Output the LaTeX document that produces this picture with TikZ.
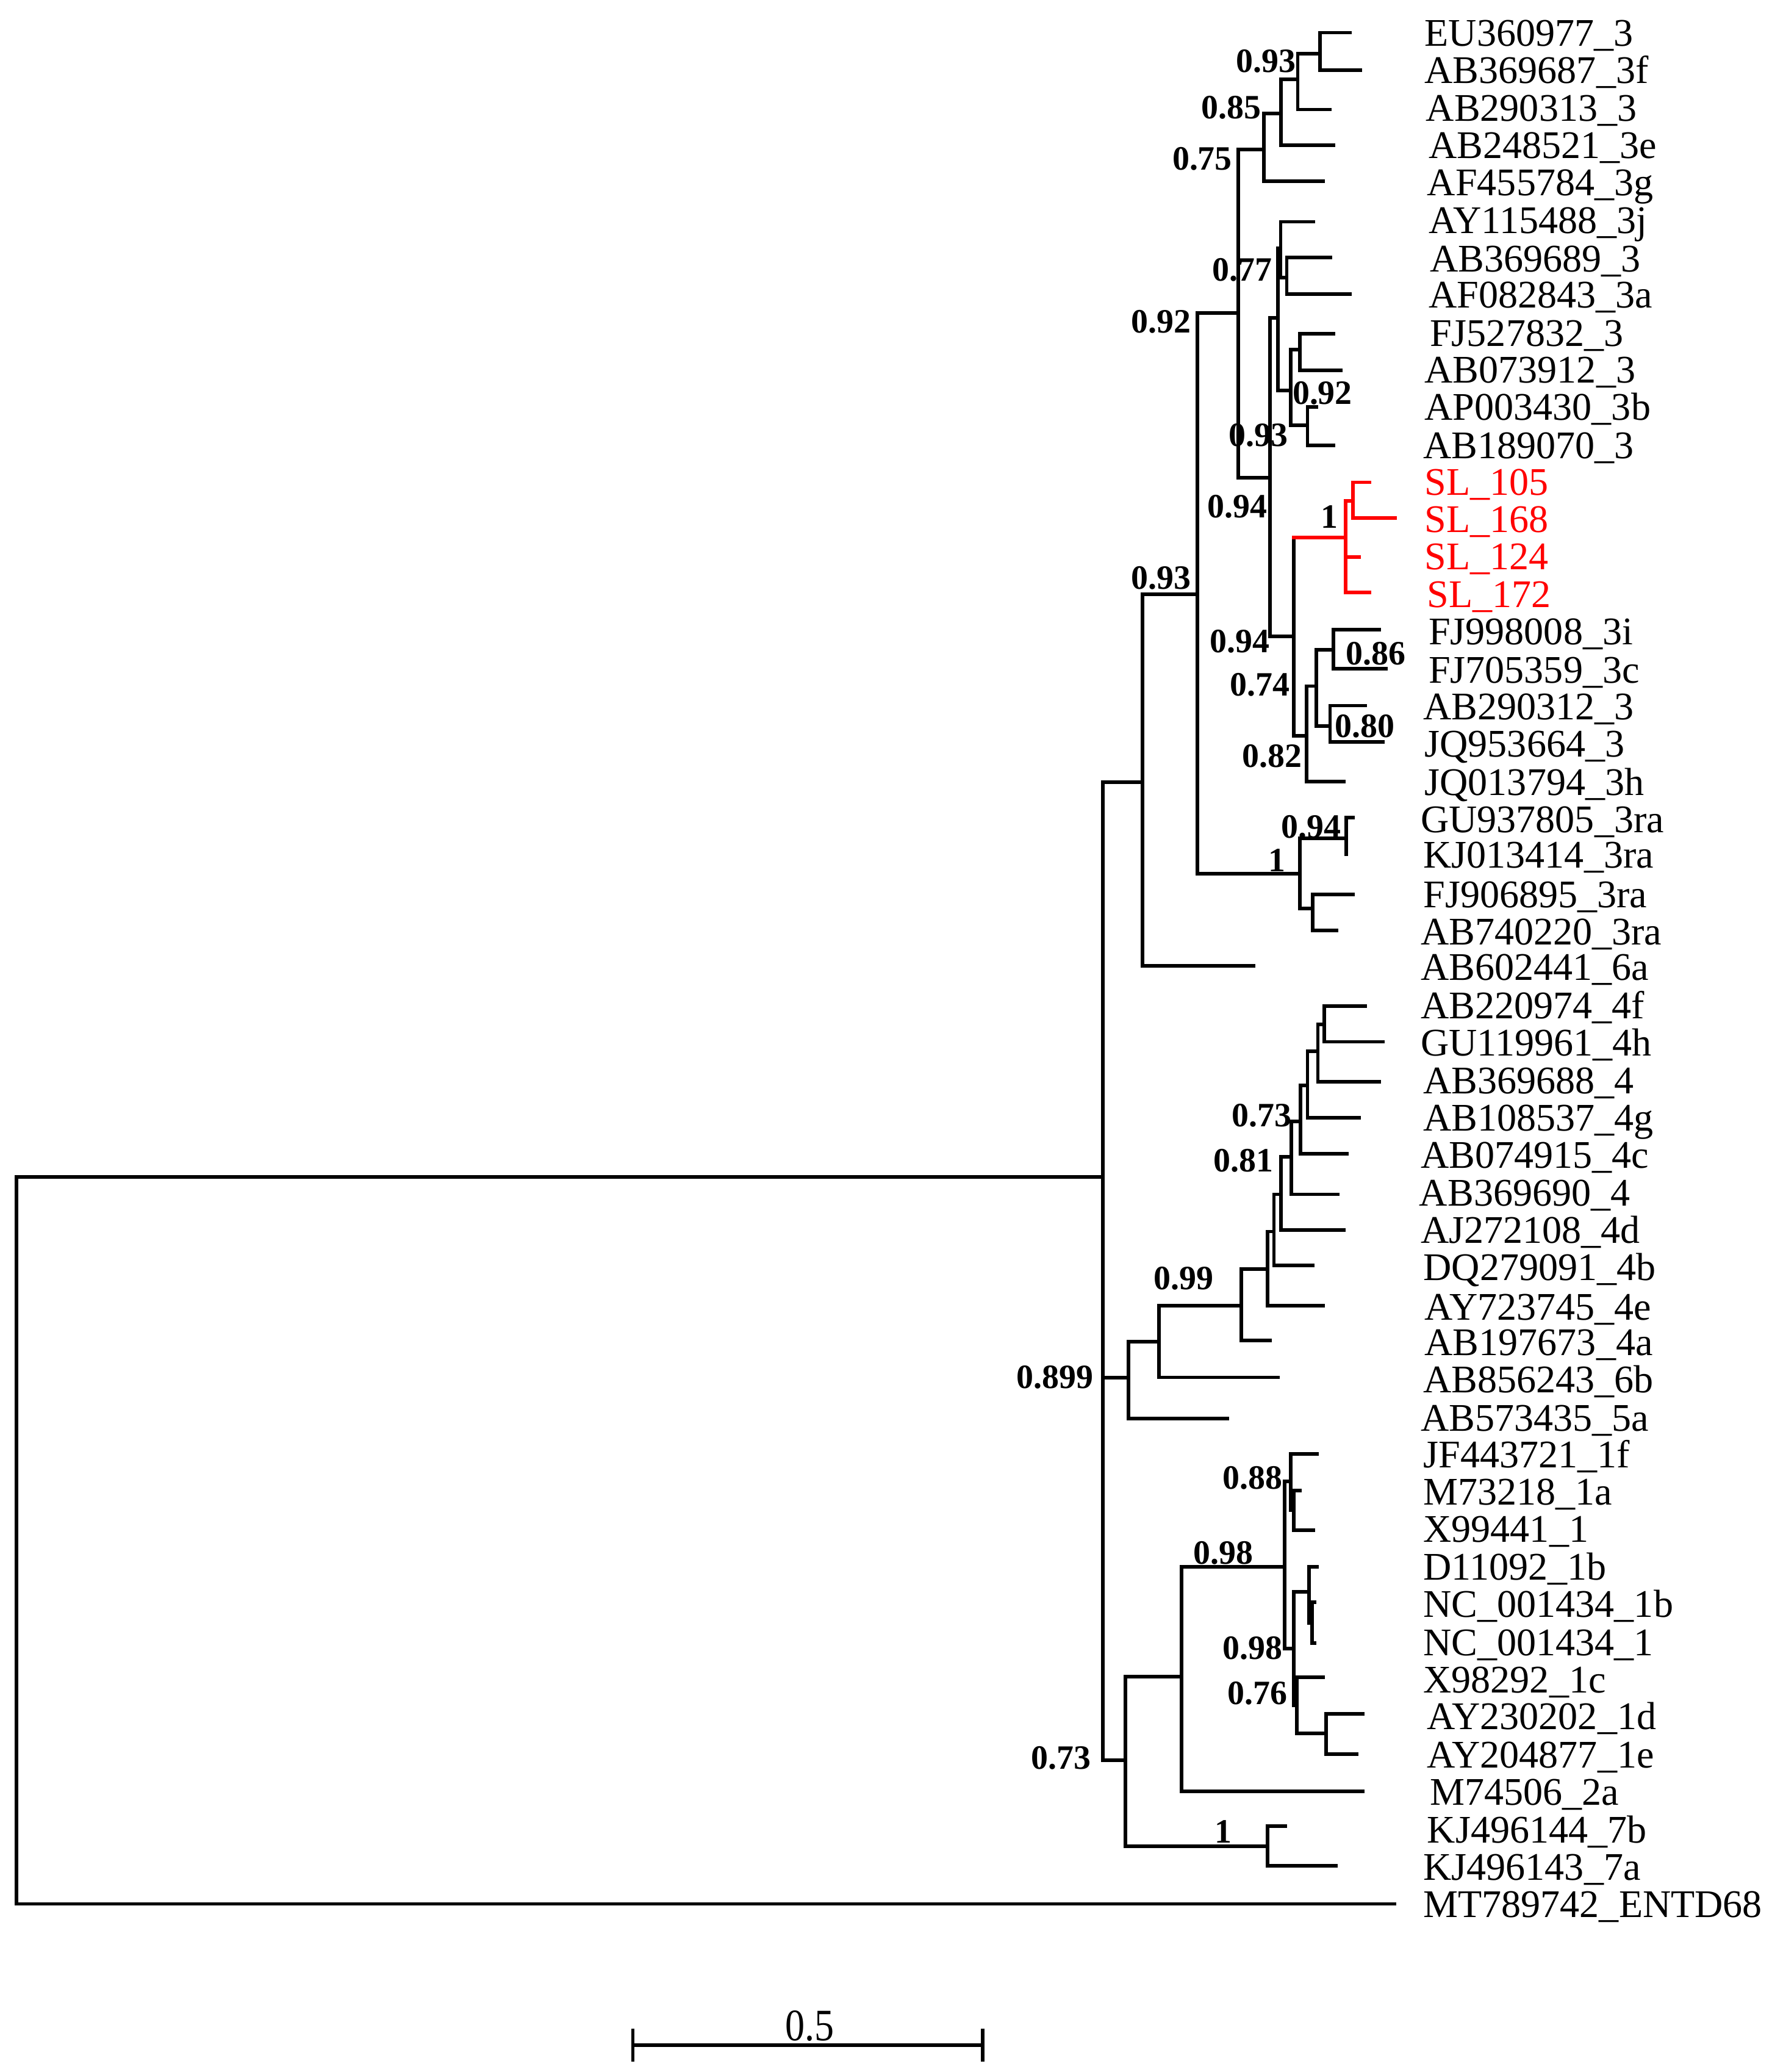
\documentclass[tikz,border=0pt]{standalone}
\usepackage{fontspec}
\setmainfont{Liberation Serif}
\newcommand\leaffont{\fontsize{14.8}{16}\selectfont}
\newcommand\bsfont{\fontsize{12.9}{14}\selectfont\bfseries}
\definecolor{tred}{RGB}{255,0,0}
\begin{document}
\begin{tikzpicture}[x=0.5pt,y=-0.5pt,
  br/.style={line width=1.35pt,line cap=rect},
  rbr/.style={br,draw=tred},
  leaf/.style={anchor=base west,inner sep=0pt,yshift=-4.9pt,font=\leaffont},
  rleaf/.style={leaf,text=tred},
  bsr/.style={anchor=base east,inner sep=0pt,yshift=-4.35pt,font=\bsfont},
  bsl/.style={anchor=base west,inner sep=0pt,yshift=-4.35pt,font=\bsfont}]
\fill[white] (0,0) rectangle (1341,1568);
\useasboundingbox (0,0) rectangle (1341,1568);
% ---- internal nodes
\coordinate (root) at (12.5,890.5);
\coordinate (n1) at (834.7,890.5);
\coordinate (nK) at (864.9,592.1);
\coordinate (nP92) at (906.5,449.7);
\coordinate (nD) at (937.2,237);
\coordinate (nN75) at (956.5,113);
\coordinate (nN85) at (969.5,86);
\coordinate (nN93a) at (982.3,60);
\coordinate (nN93b) at (999,40.5);
\coordinate (nC) at (961.2,361.5);
\coordinate (nA) at (967.1,240.5);
\coordinate (nN77) at (969.4,187.8);
\coordinate (nN77b) at (974,210.1);
\coordinate (nB) at (977.1,295.5);
\coordinate (nB1) at (984,264.7);
\coordinate (nB2) at (989.7,321.7);
\coordinate (nE) at (979.2,481.5);
\coordinate (nRed) at (1018.6,406.6);
\coordinate (nRed2) at (1024.2,379);
\coordinate (nF) at (989.1,556.9);
\coordinate (nG) at (996.3,519.2);
\coordinate (nH) at (1009.3,491.6);
\coordinate (nI) at (1006.8,549.3);
\coordinate (nJ) at (983.8,661.2);
\coordinate (nL) at (1018.9,634.3);
\coordinate (nM) at (993.8,687.6);
\coordinate (nN855) at (854.3,1042.6);
\coordinate (nO) at (877.3,1015.5);
\coordinate (nP) at (939.4,987.9);
\coordinate (nQ) at (959.6,960.3);
\coordinate (nR) at (964.3,932);
\coordinate (nS) at (969.5,903.8);
\coordinate (nT) at (977.6,875.5);
\coordinate (nU) at (984.5,848.5);
\coordinate (nV) at (989.7,821.4);
\coordinate (nW) at (997.5,795.5);
\coordinate (nX) at (1002.5,775.4);
\coordinate (nY) at (852,1331.9);
\coordinate (nZ) at (894.2,1268.9);
\coordinate (nAB) at (972.2,1185.6);
\coordinate (nAC) at (977.1,1120.9);
\coordinate (nAC2) at (979.4,1143);
\coordinate (nAD) at (979.4,1247.6);
\coordinate (nAE) at (990.9,1204.8);
\coordinate (nAE2) at (993.3,1228);
\coordinate (nAG) at (981.7,1290.7);
\coordinate (nAF) at (1003.7,1311.9);
\coordinate (nAA) at (959.5,1397);
% ---- tips
\coordinate (t1) at (1021.7,24.7);
\coordinate (t2) at (1029.5,53);
\coordinate (t3) at (1006.8,82.9);
\coordinate (t4) at (1009.3,110);
\coordinate (t5) at (1001.5,137);
\coordinate (t6) at (994,167.8);
\coordinate (t7) at (1007,194.7);
\coordinate (t8) at (1021.7,222.4);
\coordinate (t9) at (1009.4,252.4);
\coordinate (t10) at (1014.8,280.1);
\coordinate (t11) at (996.3,307.8);
\coordinate (t12) at (1009.4,337.1);
\coordinate (t13) at (1036.6,365);
\coordinate (t14) at (1055.9,392);
\coordinate (t15) at (1028.9,421.5);
\coordinate (t16) at (1036.6,448.5);
\coordinate (t17) at (1044.1,476.3);
\coordinate (t18) at (1049,506.2);
\coordinate (t19) at (1033.5,534);
\coordinate (t20) at (1046.6,561.6);
\coordinate (t21) at (1017,591.5);
\coordinate (t22) at (1024,618.6);
\coordinate (t23) at (1018.9,646.3);
\coordinate (t24) at (1024.2,677);
\coordinate (t25) at (1011.8,704);
\coordinate (t26) at (948.7,730.7);
\coordinate (t27) at (1033.5,761.3);
\coordinate (t28) at (1046.6,788.4);
\coordinate (t29) at (1044.1,818.5);
\coordinate (t30) at (1028.9,846);
\coordinate (t31) at (1019.5,873.2);
\coordinate (t32) at (1012.4,903.8);
\coordinate (t33) at (1017,930.9);
\coordinate (t34) at (993.8,957.5);
\coordinate (t35) at (1001.5,987.9);
\coordinate (t36) at (961.2,1014.5);
\coordinate (t37) at (967.4,1042.3);
\coordinate (t38) at (929,1073.3);
\coordinate (t39) at (997.1,1100.2);
\coordinate (t40) at (983.9,1128);
\coordinate (t41) at (994,1157.9);
\coordinate (t42) at (997.1,1185.6);
\coordinate (t43) at (995,1212.5);
\coordinate (t44) at (995,1243.3);
\coordinate (t45) at (1001.7,1269.4);
\coordinate (t46) at (1031.4,1297);
\coordinate (t47) at (1026.8,1327.4);
\coordinate (t48) at (1031.4,1355.7);
\coordinate (t49) at (973,1382);
\coordinate (t50) at (1011.4,1412);
\coordinate (t51) at (1055.6,1440.8);
% ---- branches
\draw[br] (root) |- (n1);
\draw[br] (root) |- (t51);
\draw[br] (n1) |- (nK);
\draw[br] (n1) |- (nN855);
\draw[br] (n1) |- (nY);
\draw[br] (nK) |- (nP92);
\draw[br] (nK) |- (t26);
\draw[br] (nP92) |- (nD);
\draw[br] (nP92) |- (nJ);
\draw[br] (nD) |- (nN75);
\draw[br] (nD) |- (nC);
\draw[br] (nN75) |- (nN85);
\draw[br] (nN75) |- (t5);
\draw[br] (nN85) |- (nN93a);
\draw[br] (nN85) |- (t4);
\draw[br] (nN93a) |- (nN93b);
\draw[br] (nN93a) |- (t3);
\draw[br] (nN93b) |- (t1);
\draw[br] (nN93b) |- (t2);
\draw[br] (nC) |- (nA);
\draw[br] (nC) |- (nE);
\draw[br] (nA) |- (nN77);
\draw[br] (nA) |- (nB);
\draw[br] (nN77) |- (t6);
\draw[br] (nN77) |- (nN77b);
\draw[br] (nN77b) |- (t7);
\draw[br] (nN77b) |- (t8);
\draw[br] (nB) |- (nB1);
\draw[br] (nB) |- (nB2);
\draw[br] (nB1) |- (t9);
\draw[br] (nB1) |- (t10);
\draw[br] (nB2) |- (t11);
\draw[br] (nB2) |- (t12);
\draw[br] (nE) -- (nE |- nRed);
\draw[rbr] (nE |- nRed) -- (nRed);
\draw[br] (nE) |- (nF);
\draw[rbr] (nRed) |- (nRed2);
\draw[rbr] (nRed) |- (t15);
\draw[rbr] (nRed) |- (t16);
\draw[rbr] (nRed2) |- (t13);
\draw[rbr] (nRed2) |- (t14);
\draw[br] (nF) |- (nG);
\draw[br] (nF) |- (t21);
\draw[br] (nG) |- (nH);
\draw[br] (nG) |- (nI);
\draw[br] (nH) |- (t17);
\draw[br] (nH) |- (t18);
\draw[br] (nI) |- (t19);
\draw[br] (nI) |- (t20);
\draw[br] (nJ) |- (nL);
\draw[br] (nJ) |- (nM);
\draw[br] (nL) |- (t22);
\draw[br] (nL) |- (t23);
\draw[br] (nM) |- (t24);
\draw[br] (nM) |- (t25);
\draw[br] (nN855) |- (nO);
\draw[br] (nN855) |- (t38);
\draw[br] (nO) |- (nP);
\draw[br] (nO) |- (t37);
\draw[br] (nP) |- (nQ);
\draw[br] (nP) |- (t36);
\draw[br] (nQ) |- (nR);
\draw[br] (nQ) |- (t35);
\draw[br] (nR) |- (nS);
\draw[br] (nR) |- (t34);
\draw[br] (nS) |- (nT);
\draw[br] (nS) |- (t33);
\draw[br] (nT) |- (nU);
\draw[br] (nT) |- (t32);
\draw[br] (nU) |- (nV);
\draw[br] (nU) |- (t31);
\draw[br] (nV) |- (nW);
\draw[br] (nV) |- (t30);
\draw[br] (nW) |- (nX);
\draw[br] (nW) |- (t29);
\draw[br] (nX) |- (t27);
\draw[br] (nX) |- (t28);
\draw[br] (nY) |- (nZ);
\draw[br] (nY) |- (nAA);
\draw[br] (nZ) |- (nAB);
\draw[br] (nZ) |- (t48);
\draw[br] (nAB) |- (nAC);
\draw[br] (nAB) |- (nAD);
\draw[br] (nAC) |- (t39);
\draw[br] (nAC) |- (nAC2);
\draw[br] (nAC2) |- (t40);
\draw[br] (nAC2) |- (t41);
\draw[br] (nAD) |- (nAE);
\draw[br] (nAD) |- (nAG);
\draw[br] (nAE) |- (t42);
\draw[br] (nAE) |- (nAE2);
\draw[br] (nAE2) |- (t43);
\draw[br] (nAE2) |- (t44);
\draw[br] (nAG) |- (t45);
\draw[br] (nAG) |- (nAF);
\draw[br] (nAF) |- (t46);
\draw[br] (nAF) |- (t47);
\draw[br] (nAA) |- (t49);
\draw[br] (nAA) |- (t50);
% ---- leaf labels
\node[leaf] (lab1) at (1078,25) {EU360977\_3};
\node[leaf] (lab2) at (1078,53) {AB369687\_3f};
\node[leaf] (lab3) at (1079,82) {AB290313\_3};
\node[leaf] (lab4) at (1081,110) {AB248521\_3e};
\node[leaf] (lab5) at (1080,138) {AF455784\_3g};
\node[leaf] (lab6) at (1081,167) {AY115488\_3j};
\node[leaf] (lab7) at (1082,196) {AB369689\_3};
\node[leaf] (lab8) at (1081,223) {AF082843\_3a};
\node[leaf] (lab9) at (1082,252) {FJ527832\_3};
\node[leaf] (lab10) at (1078,280) {AB073912\_3};
\node[leaf] (lab11) at (1078,308) {AP003430\_3b};
\node[leaf] (lab12) at (1077,337) {AB189070\_3};
\node[rleaf] (lab13) at (1078,365) {SL\_105};
\node[rleaf] (lab14) at (1078,393) {SL\_168};
\node[rleaf] (lab15) at (1078,421) {SL\_124};
\node[rleaf] (lab16) at (1080,450) {SL\_172};
\node[leaf] (lab17) at (1081,478) {FJ998008\_3i};
\node[leaf] (lab18) at (1081,507) {FJ705359\_3c};
\node[leaf] (lab19) at (1077,535) {AB290312\_3};
\node[leaf] (lab20) at (1078,563) {JQ953664\_3};
\node[leaf] (lab21) at (1078,592) {JQ013794\_3h};
\node[leaf] (lab22) at (1075,620) {GU937805\_3ra};
\node[leaf] (lab23) at (1077,647) {KJ013414\_3ra};
\node[leaf] (lab24) at (1077,677) {FJ906895\_3ra};
\node[leaf] (lab25) at (1075,705) {AB740220\_3ra};
\node[leaf] (lab26) at (1075,732) {AB602441\_6a};
\node[leaf] (lab27) at (1075,761) {AB220974\_4f};
\node[leaf] (lab28) at (1075,789) {GU119961\_4h};
\node[leaf] (lab29) at (1077,818) {AB369688\_4};
\node[leaf] (lab30) at (1077,846) {AB108537\_4g};
\node[leaf] (lab31) at (1075,874) {AB074915\_4c};
\node[leaf] (lab32) at (1074,903) {AB369690\_4};
\node[leaf] (lab33) at (1075,931) {AJ272108\_4d};
\node[leaf] (lab34) at (1077,959) {DQ279091\_4b};
\node[leaf] (lab35) at (1078,989) {AY723745\_4e};
\node[leaf] (lab36) at (1078,1016) {AB197673\_4a};
\node[leaf] (lab37) at (1077,1044) {AB856243\_6b};
\node[leaf] (lab38) at (1075,1073) {AB573435\_5a};
\node[leaf] (lab39) at (1077,1101) {JF443721\_1f};
\node[leaf] (lab40) at (1077,1129) {M73218\_1a};
\node[leaf] (lab41) at (1077,1157) {X99441\_1};
\node[leaf] (lab42) at (1077,1186) {D11092\_1b};
\node[leaf] (lab43) at (1077,1214) {NC\_001434\_1b};
\node[leaf] (lab44) at (1077,1243) {NC\_001434\_1};
\node[leaf] (lab45) at (1077,1271) {X98292\_1c};
\node[leaf] (lab46) at (1080,1299) {AY230202\_1d};
\node[leaf] (lab47) at (1080,1328) {AY204877\_1e};
\node[leaf] (lab48) at (1082,1356) {M74506\_2a};
\node[leaf] (lab49) at (1080,1385) {KJ496144\_7b};
\node[leaf] (lab50) at (1077,1413) {KJ496143\_7a};
\node[leaf] (lab51) at (1077,1441) {MT789742\_ENTD68};
% ---- support values
\node[bsr] (s1) at (981.3,46) {0.93};
\node[bsr] (s2) at (955,81.3) {0.85};
\node[bsr] (s3) at (933,120) {0.75};
\node[bsr] (s4) at (902,243) {0.92};
\node[bsr] (s5) at (963.2,204) {0.77};
\node[bsl] (s6) at (978,297.4) {0.92};
\node[bsr] (s7) at (975.5,329) {0.93};
\node[bsr] (s8) at (959.6,383) {0.94};
\node[bsl] (s9) at (999.5,391) {1};
\node[bsr] (s10) at (902,437) {0.93};
\node[bsr] (s11) at (961.2,485) {0.94};
\node[bsl] (s12) at (1018.6,494.3) {0.86};
\node[bsr] (s13) at (976.7,518) {0.74};
\node[bsl] (s14) at (1010,549.5) {0.80};
\node[bsr] (s15) at (986,572) {0.82};
\node[bsr] (s16) at (1015.5,625.3) {0.94};
\node[bsr] (s17) at (973.6,651) {1};
\node[bsr] (s18) at (978.2,844) {0.73};
\node[bsr] (s19) at (964.3,878) {0.81};
\node[bsr] (s20) at (919,967) {0.99};
\node[bsr] (s21) at (827.8,1042) {0.899};
\node[bsr] (s22) at (971,1118) {0.88};
\node[bsr] (s23) at (949.1,1175) {0.98};
\node[bsr] (s24) at (971,1247) {0.98};
\node[bsr] (s25) at (974.9,1281) {0.76};
\node[bsr] (s26) at (826.2,1330) {0.73};
\node[bsr] (s27) at (932.6,1386) {1};
% ---- scale bar
\coordinate (sbL) at (479,1547.7);
\coordinate (sbR) at (744,1547.7);
\draw[br,line cap=butt] (sbL) -- (sbR);
\draw[br,line cap=butt] ([yshift=6.35pt]sbL) -- ([yshift=-6.3pt]sbL);
\draw[br,line cap=butt] ([yshift=6.35pt]sbR) -- ([yshift=-6.3pt]sbR);
\node[anchor=base,inner sep=0pt,font=\leaffont] (sblab) at (613,1544.1) {\scalebox{1}[1.15]{0.5}};
\end{tikzpicture}
\end{document}
